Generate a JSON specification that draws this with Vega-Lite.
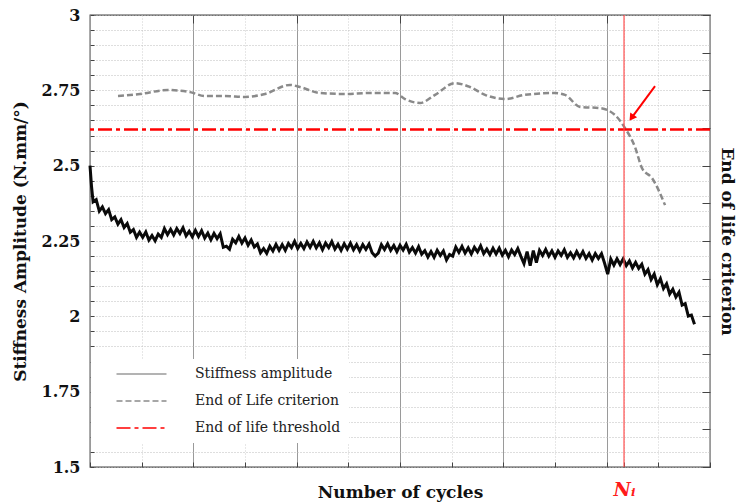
{
  "$schema": "https://vega.github.io/schema/vega-lite/v6.json",
  "width": 620,
  "height": 452,
  "autosize": {"type": "none"},
  "padding": {"left": 90, "top": 15, "right": 30, "bottom": 37},
  "background": "white",
  "config": {
    "font": "DejaVu Serif",
    "view": {"stroke": "#444", "strokeWidth": 1.3},
    "axis": {"domain": false, "labelFont": "DejaVu Serif", "titleFont": "DejaVu Serif"}
  },
  "datasets": {
    "stiffness": [
      {"cycles": 0, "value": 2.5},
      {"cycles": 1.5, "value": 2.43},
      {"cycles": 3, "value": 2.38},
      {"cycles": 6, "value": 2.387},
      {"cycles": 9, "value": 2.349},
      {"cycles": 12, "value": 2.363},
      {"cycles": 15, "value": 2.341},
      {"cycles": 18, "value": 2.354},
      {"cycles": 21, "value": 2.321},
      {"cycles": 24, "value": 2.33},
      {"cycles": 27, "value": 2.306},
      {"cycles": 30, "value": 2.321},
      {"cycles": 33, "value": 2.295},
      {"cycles": 36, "value": 2.308},
      {"cycles": 39, "value": 2.279},
      {"cycles": 42, "value": 2.288},
      {"cycles": 45, "value": 2.262},
      {"cycles": 48, "value": 2.279},
      {"cycles": 51, "value": 2.262},
      {"cycles": 54, "value": 2.28},
      {"cycles": 57, "value": 2.253},
      {"cycles": 60, "value": 2.268},
      {"cycles": 63, "value": 2.251},
      {"cycles": 66, "value": 2.273},
      {"cycles": 69, "value": 2.262},
      {"cycles": 72, "value": 2.291},
      {"cycles": 75, "value": 2.271},
      {"cycles": 78, "value": 2.289},
      {"cycles": 81, "value": 2.27},
      {"cycles": 84, "value": 2.291},
      {"cycles": 87, "value": 2.275},
      {"cycles": 90, "value": 2.294},
      {"cycles": 93, "value": 2.267},
      {"cycles": 96, "value": 2.282},
      {"cycles": 99, "value": 2.264},
      {"cycles": 102, "value": 2.285},
      {"cycles": 105, "value": 2.265},
      {"cycles": 108, "value": 2.284},
      {"cycles": 111, "value": 2.26},
      {"cycles": 114, "value": 2.276},
      {"cycles": 117, "value": 2.254},
      {"cycles": 120, "value": 2.275},
      {"cycles": 123, "value": 2.258},
      {"cycles": 126, "value": 2.274},
      {"cycles": 129, "value": 2.229},
      {"cycles": 132, "value": 2.233},
      {"cycles": 135, "value": 2.223},
      {"cycles": 138, "value": 2.256},
      {"cycles": 141, "value": 2.244},
      {"cycles": 144, "value": 2.265},
      {"cycles": 147, "value": 2.243},
      {"cycles": 150, "value": 2.26},
      {"cycles": 153, "value": 2.236},
      {"cycles": 156, "value": 2.253},
      {"cycles": 159, "value": 2.23},
      {"cycles": 162, "value": 2.24},
      {"cycles": 165, "value": 2.211},
      {"cycles": 168, "value": 2.225},
      {"cycles": 171, "value": 2.209},
      {"cycles": 174, "value": 2.233},
      {"cycles": 177, "value": 2.217},
      {"cycles": 180, "value": 2.239},
      {"cycles": 183, "value": 2.219},
      {"cycles": 186, "value": 2.238},
      {"cycles": 189, "value": 2.219},
      {"cycles": 192, "value": 2.242},
      {"cycles": 195, "value": 2.228},
      {"cycles": 198, "value": 2.249},
      {"cycles": 201, "value": 2.225},
      {"cycles": 204, "value": 2.242},
      {"cycles": 207, "value": 2.225},
      {"cycles": 210, "value": 2.247},
      {"cycles": 213, "value": 2.229},
      {"cycles": 216, "value": 2.249},
      {"cycles": 219, "value": 2.227},
      {"cycles": 222, "value": 2.244},
      {"cycles": 225, "value": 2.221},
      {"cycles": 228, "value": 2.243},
      {"cycles": 231, "value": 2.228},
      {"cycles": 234, "value": 2.248},
      {"cycles": 237, "value": 2.223},
      {"cycles": 240, "value": 2.239},
      {"cycles": 243, "value": 2.219},
      {"cycles": 246, "value": 2.241},
      {"cycles": 249, "value": 2.223},
      {"cycles": 252, "value": 2.243},
      {"cycles": 255, "value": 2.221},
      {"cycles": 258, "value": 2.238},
      {"cycles": 261, "value": 2.217},
      {"cycles": 264, "value": 2.238},
      {"cycles": 267, "value": 2.222},
      {"cycles": 270, "value": 2.24},
      {"cycles": 273, "value": 2.211},
      {"cycles": 276, "value": 2.2},
      {"cycles": 279, "value": 2.21},
      {"cycles": 282, "value": 2.238},
      {"cycles": 285, "value": 2.222},
      {"cycles": 288, "value": 2.241},
      {"cycles": 291, "value": 2.219},
      {"cycles": 294, "value": 2.235},
      {"cycles": 297, "value": 2.215},
      {"cycles": 300, "value": 2.236},
      {"cycles": 303, "value": 2.22},
      {"cycles": 306, "value": 2.239},
      {"cycles": 309, "value": 2.213},
      {"cycles": 312, "value": 2.228},
      {"cycles": 315, "value": 2.21},
      {"cycles": 318, "value": 2.231},
      {"cycles": 321, "value": 2.206},
      {"cycles": 324, "value": 2.218},
      {"cycles": 327, "value": 2.197},
      {"cycles": 330, "value": 2.215},
      {"cycles": 333, "value": 2.196},
      {"cycles": 336, "value": 2.219},
      {"cycles": 339, "value": 2.202},
      {"cycles": 342, "value": 2.217},
      {"cycles": 345, "value": 2.187},
      {"cycles": 348, "value": 2.205},
      {"cycles": 351, "value": 2.2},
      {"cycles": 354, "value": 2.23},
      {"cycles": 357, "value": 2.212},
      {"cycles": 360, "value": 2.232},
      {"cycles": 363, "value": 2.21},
      {"cycles": 366, "value": 2.227},
      {"cycles": 369, "value": 2.207},
      {"cycles": 372, "value": 2.229},
      {"cycles": 375, "value": 2.214},
      {"cycles": 378, "value": 2.234},
      {"cycles": 381, "value": 2.208},
      {"cycles": 384, "value": 2.223},
      {"cycles": 387, "value": 2.205},
      {"cycles": 390, "value": 2.226},
      {"cycles": 393, "value": 2.207},
      {"cycles": 396, "value": 2.226},
      {"cycles": 399, "value": 2.203},
      {"cycles": 402, "value": 2.219},
      {"cycles": 405, "value": 2.198},
      {"cycles": 408, "value": 2.22},
      {"cycles": 411, "value": 2.205},
      {"cycles": 414, "value": 2.225},
      {"cycles": 417, "value": 2.199},
      {"cycles": 420, "value": 2.175},
      {"cycles": 423, "value": 2.215},
      {"cycles": 426, "value": 2.168},
      {"cycles": 429, "value": 2.218},
      {"cycles": 432, "value": 2.178},
      {"cycles": 435, "value": 2.219},
      {"cycles": 438, "value": 2.202},
      {"cycles": 441, "value": 2.222},
      {"cycles": 444, "value": 2.2},
      {"cycles": 447, "value": 2.217},
      {"cycles": 450, "value": 2.196},
      {"cycles": 453, "value": 2.217},
      {"cycles": 456, "value": 2.202},
      {"cycles": 459, "value": 2.221},
      {"cycles": 462, "value": 2.196},
      {"cycles": 465, "value": 2.211},
      {"cycles": 468, "value": 2.194},
      {"cycles": 471, "value": 2.215},
      {"cycles": 474, "value": 2.196},
      {"cycles": 477, "value": 2.215},
      {"cycles": 480, "value": 2.192},
      {"cycles": 483, "value": 2.208},
      {"cycles": 486, "value": 2.187},
      {"cycles": 489, "value": 2.208},
      {"cycles": 492, "value": 2.192},
      {"cycles": 495, "value": 2.208},
      {"cycles": 498, "value": 2.176},
      {"cycles": 501, "value": 2.14},
      {"cycles": 504, "value": 2.19},
      {"cycles": 507, "value": 2.17},
      {"cycles": 510, "value": 2.191},
      {"cycles": 513, "value": 2.172},
      {"cycles": 516, "value": 2.191},
      {"cycles": 519, "value": 2.168},
      {"cycles": 522, "value": 2.184},
      {"cycles": 525, "value": 2.161},
      {"cycles": 528, "value": 2.179},
      {"cycles": 531, "value": 2.159},
      {"cycles": 534, "value": 2.173},
      {"cycles": 537, "value": 2.14},
      {"cycles": 540, "value": 2.155},
      {"cycles": 543, "value": 2.122},
      {"cycles": 546, "value": 2.14},
      {"cycles": 549, "value": 2.105},
      {"cycles": 552, "value": 2.125},
      {"cycles": 555, "value": 2.092},
      {"cycles": 558, "value": 2.108},
      {"cycles": 561, "value": 2.074},
      {"cycles": 564, "value": 2.09},
      {"cycles": 567, "value": 2.064},
      {"cycles": 570, "value": 2.08},
      {"cycles": 573, "value": 2.037},
      {"cycles": 576, "value": 2.042},
      {"cycles": 579, "value": 2.001},
      {"cycles": 582, "value": 2.004},
      {"cycles": 585, "value": 1.974}
    ],
    "criterion": [
      {"cycles": 27.1, "value": 2.731, "series": "End of Life criterion"},
      {"cycles": 48.4, "value": 2.738, "series": "End of Life criterion"},
      {"cycles": 75.5, "value": 2.751, "series": "End of Life criterion"},
      {"cycles": 96.8, "value": 2.744, "series": "End of Life criterion"},
      {"cycles": 111.3, "value": 2.731, "series": "End of Life criterion"},
      {"cycles": 130.6, "value": 2.731, "series": "End of Life criterion"},
      {"cycles": 150, "value": 2.728, "series": "End of Life criterion"},
      {"cycles": 169.4, "value": 2.738, "series": "End of Life criterion"},
      {"cycles": 193.5, "value": 2.768, "series": "End of Life criterion"},
      {"cycles": 203.2, "value": 2.761, "series": "End of Life criterion"},
      {"cycles": 222.6, "value": 2.741, "series": "End of Life criterion"},
      {"cycles": 246.8, "value": 2.738, "series": "End of Life criterion"},
      {"cycles": 271, "value": 2.741, "series": "End of Life criterion"},
      {"cycles": 295.2, "value": 2.741, "series": "End of Life criterion"},
      {"cycles": 304.8, "value": 2.721, "series": "End of Life criterion"},
      {"cycles": 319.4, "value": 2.708, "series": "End of Life criterion"},
      {"cycles": 333.9, "value": 2.735, "series": "End of Life criterion"},
      {"cycles": 353.2, "value": 2.774, "series": "End of Life criterion"},
      {"cycles": 367.7, "value": 2.761, "series": "End of Life criterion"},
      {"cycles": 382.3, "value": 2.735, "series": "End of Life criterion"},
      {"cycles": 401.6, "value": 2.721, "series": "End of Life criterion"},
      {"cycles": 421, "value": 2.735, "series": "End of Life criterion"},
      {"cycles": 450, "value": 2.741, "series": "End of Life criterion"},
      {"cycles": 459.7, "value": 2.735, "series": "End of Life criterion"},
      {"cycles": 474.2, "value": 2.695, "series": "End of Life criterion"},
      {"cycles": 493.5, "value": 2.691, "series": "End of Life criterion"},
      {"cycles": 508.1, "value": 2.668, "series": "End of Life criterion"},
      {"cycles": 517.7, "value": 2.625, "series": "End of Life criterion"},
      {"cycles": 527.4, "value": 2.562, "series": "End of Life criterion"},
      {"cycles": 534.2, "value": 2.492, "series": "End of Life criterion"},
      {"cycles": 543.9, "value": 2.459, "series": "End of Life criterion"},
      {"cycles": 556.5, "value": 2.369, "series": "End of Life criterion"}
    ],
    "threshold": [
      {"value": 2.62, "series": "End of life threshold"}
    ],
    "failure": [
      {"cycles": 516.8, "label": "Ni"}
    ],
    "arrow": [
      {"cycles": 546.8, "value": 2.764, "cycles_end": 524.8, "value_end": 2.662}
    ],
    "arrowhead": [
      {"cycles": 524.8, "value": 2.662}
    ]
  },
  "resolve": {"axis": {"x": "independent", "y": "independent"}},
  "layer": [
    {
      "data": {"name": "stiffness"},
      "mark": {"type": "line", "color": "#0a0a0a", "strokeWidth": 3},
      "encoding": {
        "x": {
          "field": "cycles", "type": "quantitative",
          "scale": {"domain": [0, 600], "nice": false, "zero": false},
          "axis": {
            "orient": "bottom",
            "title": "Number of cycles",
            "titleFontSize": 17, "titleFontWeight": "bold", "titleColor": "#111",
            "titleBaseline": "alphabetic", "titleY": 30,
            "values": [0, 50, 100, 150, 200, 250, 300, 350, 400, 450, 500, 516.8, 550, 600],
            "grid": true,
            "gridColor": {"condition": {"test": "datum.value % 100 === 0", "value": "#9a9a9a"}, "value": "#cfcfcf"},
            "gridDash": {"condition": {"test": "datum.value % 100 === 0", "value": []}, "value": [1, 2]},
            "gridWidth": 1,
            "tickSize": -5, "tickColor": "#444",
            "labelExpr": "datum.value > 516 && datum.value < 517 ? 'Nᵢ' : ''",
            "labelColor": "#ff1a1a", "labelFontSize": 19, "labelFontWeight": "bold", "labelFontStyle": "italic",
            "labelBaseline": "alphabetic", "labelPadding": 33,
            "labelOverlap": false, "labelFlush": false, "labelBound": false
          }
        },
        "y": {
          "field": "value", "type": "quantitative",
          "scale": {"domain": [1.5, 3], "nice": false, "zero": false},
          "axis": {
            "orient": "left",
            "title": "Stiffness Amplitude (N.mm/°)",
            "titleFontSize": 17, "titleFontWeight": "bold", "titleColor": "#111",
            "titlePadding": 12,
            "values": [1.5, 1.55, 1.6, 1.65, 1.7, 1.75, 1.8, 1.85, 1.9, 1.95, 2, 2.05, 2.1, 2.15, 2.2, 2.25, 2.3, 2.35, 2.4, 2.45, 2.5, 2.55, 2.6, 2.65, 2.7, 2.75, 2.8, 2.85, 2.9, 2.95, 3],
            "grid": true, "gridColor": "#bdbdbd", "gridDash": [1, 2], "gridWidth": 1,
            "tickSize": -4, "tickColor": "#444",
            "labelExpr": "abs(datum.value * 4 - round(datum.value * 4)) < 0.001 ? format(datum.value, '~g') : ''",
            "labelFontSize": 16, "labelFontWeight": "bold", "labelColor": "#111",
            "labelPadding": 14, "labelOverlap": false, "labelBound": false
          }
        }
      }
    },
    {
      "data": {"name": "criterion"},
      "mark": {"type": "line", "interpolate": "monotone"},
      "encoding": {
        "x": {"field": "cycles", "type": "quantitative", "scale": {"domain": [0, 600], "nice": false, "zero": false}, "axis": null},
        "y": {"field": "value", "type": "quantitative", "scale": {"domain": [1.5, 3], "nice": false, "zero": false}, "axis": null},
        "color": {
          "field": "series", "type": "nominal",
          "scale": {"domain": ["Stiffness amplitude", "End of Life criterion", "End of life threshold"], "range": ["#9a9a9a", "#8a8a8a", "#ff0000"]},
          "legend": {
            "title": null, "orient": "none", "legendX": 1, "legendY": 344,
            "fillColor": "white", "padding": 8,
            "labelFont": "DejaVu Serif", "labelFontSize": 14, "labelColor": "#222",
            "symbolType": "M-5,0H5", "symbolSize": 100,
            "symbolOffset": 35.5, "labelOffset": 46.5, "rowPadding": 13
          }
        },
        "strokeDash": {
          "field": "series", "type": "nominal",
          "scale": {"domain": ["Stiffness amplitude", "End of Life criterion", "End of life threshold"], "range": [[1, 0], [6, 3], [14, 4, 4, 4]]}
        },
        "size": {
          "field": "series", "type": "nominal",
          "scale": {"type": "ordinal", "domain": ["Stiffness amplitude", "End of Life criterion", "End of life threshold"], "range": [1, 2.5, 3]}
        }
      }
    },
    {
      "data": {"name": "threshold"},
      "mark": {"type": "rule"},
      "encoding": {
        "y": {
          "field": "value", "type": "quantitative",
          "scale": {"domain": [1.5, 3], "nice": false, "zero": false},
          "axis": {
            "orient": "right",
            "title": "End of life criterion",
            "titleFontSize": 17, "titleFontWeight": "bold", "titleColor": "#111",
            "titleAngle": 90, "titlePadding": 7,
            "values": [1.5, 1.625, 1.75, 1.875, 2, 2.125, 2.25, 2.375, 2.5, 2.625, 2.75, 2.875, 3],
            "labels": false, "grid": false,
            "tickSize": -8, "tickColor": "#444"
          }
        },
        "color": {"field": "series", "type": "nominal"},
        "strokeDash": {"field": "series", "type": "nominal"},
        "size": {"field": "series", "type": "nominal"}
      }
    },
    {
      "data": {"name": "failure"},
      "mark": {"type": "rule", "color": "#ff4d4d", "strokeWidth": 1.2},
      "encoding": {
        "x": {
          "field": "cycles", "type": "quantitative",
          "scale": {"domain": [0, 600], "nice": false, "zero": false},
          "axis": {
            "orient": "top", "title": null,
            "values": [100, 200, 300, 400, 500],
            "labels": false, "grid": false,
            "tickSize": -8, "tickColor": "#444"
          }
        }
      }
    },
    {
      "data": {"name": "arrow"},
      "mark": {"type": "rule", "color": "#ff0000", "strokeWidth": 2},
      "encoding": {
        "x": {"field": "cycles", "type": "quantitative", "axis": null},
        "y": {"field": "value", "type": "quantitative", "axis": null},
        "x2": {"field": "cycles_end"},
        "y2": {"field": "value_end"}
      }
    },
    {
      "data": {"name": "arrowhead"},
      "mark": {"type": "point", "shape": "triangle", "filled": true, "color": "#ff0000", "size": 70, "angle": 215, "opacity": 1},
      "encoding": {
        "x": {"field": "cycles", "type": "quantitative", "axis": null},
        "y": {"field": "value", "type": "quantitative", "axis": null}
      }
    }
  ]
}
